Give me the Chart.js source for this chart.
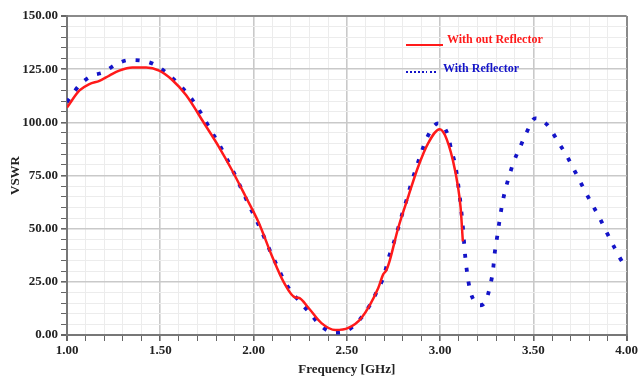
<!DOCTYPE html>
<html>
<head>
<meta charset="utf-8">
<script src="https://cdn.jsdelivr.net/npm/chart.js@4/dist/chart.umd.min.js"></script>
<style>
  html, body { margin: 0; padding: 0; background: #ffffff; }
  #wrap { width: 640px; height: 377px; position: relative; }
</style>
</head>
<body>
<div id="wrap"><canvas id="c" width="640" height="377"></canvas></div>
<script>
// ---- Data ----
const seriesLabels = ["With out Reflector", "With Reflector"];

const freqWithout = [1.00, 1.067, 1.120, 1.174, 1.227, 1.280, 1.350, 1.424, 1.494, 1.563, 1.638, 1.734,
  1.814, 1.884, 1.958, 2.028, 2.097, 2.161, 2.225, 2.241, 2.295, 2.364, 2.439, 2.508, 2.578, 2.668,
  2.695, 2.712, 2.730, 2.775, 2.829, 2.882, 2.935, 2.998, 3.026, 3.069, 3.096, 3.110, 3.122];
const vswrWithout = [107, 115, 118, 119.5, 122, 124.3, 125.8, 125.8, 124.3, 120, 112.8, 99.7,
  88.5, 77.6, 65, 52.8, 37.5, 25, 17.6, 17.5, 12.7, 5.6, 2.3, 3.3, 8, 22,
  28.5, 30.5, 35, 50.2, 65, 79, 90, 96.8, 94, 82, 69.7, 60, 44];

const freqWith = [1.00, 1.067, 1.131, 1.195, 1.264, 1.334, 1.402, 1.467, 1.531, 1.595, 1.670, 1.722, 1.770,
  1.818, 1.862, 1.903, 1.942, 1.980, 2.019, 2.057, 2.093, 2.131, 2.170, 2.232, 2.295, 2.366, 2.434, 2.499,
  2.567, 2.624, 2.665, 2.700, 2.722, 2.749, 2.775, 2.798, 2.823, 2.846, 2.873, 2.900, 2.932, 2.989, 3.042,
  3.060, 3.081, 3.105, 3.122, 3.135, 3.158, 3.190, 3.218, 3.247, 3.270, 3.284, 3.292, 3.304, 3.316, 3.329,
  3.345, 3.368, 3.393, 3.428, 3.464, 3.510, 3.576, 3.629, 3.679, 3.722, 3.765, 3.807, 3.852, 3.893, 3.935,
  3.980, 4.00];
const vswrWith = [109.5, 117.5, 121.8, 123.5, 127.3, 129.3, 129, 127.3, 123.5, 118.3, 110.8, 103.8, 96.4,
  89.3, 82, 74.8, 67.4, 60.3, 53.3, 46, 38.7, 31.6, 24.6, 17.2, 11, 3.9, 1.1, 2,
  7, 14.1, 21.2, 28, 35.6, 42.6, 50.2, 57.2, 64.3, 71.6, 78.8, 85.9, 93.2, 99.5, 94,
  87, 80, 65.3, 50.9, 36.8, 22.2, 15.2, 14, 16.5, 23.8, 30.6, 37.9, 45, 52.2, 59.5,
  66.6, 74, 81, 88.2, 95.3, 101.9, 98.7, 91.4, 84.2, 77.1, 69.7, 62.7, 55.6, 48.3, 41.1,
  34, 32.5];

const xMin = 1.0, xMax = 4.0, xMinorStep = 0.1, xMajorStep = 0.5;
const yMin = 0, yMax = 150, yMinorStep = 5, yMajorStep = 25;
const xTitle = "Frequency [GHz]";
const yTitle = "VSWR";

// ---- Build chart ----
const toPts = (xs, ys) => xs.map((x, i) => ({ x: x, y: ys[i] }));
const FONT = "'Liberation Serif', 'Times New Roman', serif";
const isMult = (v, step) => Math.abs(v / step - Math.round(v / step)) < 1e-6;

const gridColor = (step, min, max) => (ctx) => {
  const v = ctx.tick ? ctx.tick.value : 0;
  if (Math.abs(v - min) < 1e-6 || Math.abs(v - max) < 1e-6) return '#8a8a8a';
  return isMult(v, step) ? '#c9c9c9' : '#ececec';
};
const gridWidth = (step, min, max) => (ctx) => {
  const v = ctx.tick ? ctx.tick.value : 0;
  if (Math.abs(v - min) < 1e-6 || Math.abs(v - max) < 1e-6) return 2;
  return isMult(v, step) ? 1.6 : 1;
};

const legendPlugin = {
  id: 'inlineLegend',
  afterDatasetsDraw(chart) {
    const c = chart.ctx;
    const ds = chart.data.datasets;
    c.save();
    c.font = "bold 12px " + FONT;
    c.textBaseline = 'middle';
    c.textAlign = 'left';
    // Series 1: solid red line sample
    c.strokeStyle = ds[0].borderColor;
    c.lineWidth = 2;
    c.beginPath(); c.moveTo(406, 45); c.lineTo(443, 45); c.stroke();
    c.fillStyle = ds[0].borderColor;
    c.fillText(ds[0].label, 447, 40);
    // Series 2: dotted blue sample
    c.strokeStyle = ds[1].borderColor;
    c.lineWidth = 2;
    c.setLineDash([2, 2]);
    c.beginPath(); c.moveTo(406, 72); c.lineTo(427, 72); c.stroke();
    c.beginPath(); c.moveTo(430, 72); c.lineTo(437, 72); c.stroke();
    c.setLineDash([]);
    c.fillStyle = ds[1].borderColor;
    c.fillText(ds[1].label, 443, 69);
    c.restore();
  }
};

new Chart(document.getElementById('c'), {
  type: 'line',
  data: {
    datasets: [
      {
        label: seriesLabels[0],
        data: toPts(freqWithout, vswrWithout),
        borderColor: '#ff1a1a',
        borderWidth: 2.5,
        pointRadius: 0,
        fill: false,
        cubicInterpolationMode: 'monotone'
      },
      {
        label: seriesLabels[1],
        data: toPts(freqWith, vswrWith),
        borderColor: '#1414c8',
        borderWidth: 3.8,
        borderDash: [4, 10],
        borderCapStyle: 'butt',
        pointRadius: 0,
        fill: false,
        cubicInterpolationMode: 'monotone'
      }
    ]
  },
  options: {
    responsive: false,
    animation: false,
    devicePixelRatio: 1,
    layout: { padding: { top: 16, right: 10, left: 8, bottom: 0 } },
    plugins: { legend: { display: false }, tooltip: { enabled: false } },
    scales: {
      x: {
        type: 'linear',
        min: xMin, max: xMax,
        afterFit: (s) => { s.height = 42; },
        afterBuildTicks: (s) => {
          const t = [];
          for (let i = 0; i <= Math.round((xMax - xMin) / xMinorStep); i++) t.push({ value: +(xMin + i * xMinorStep).toFixed(4) });
          s.ticks = t;
        },
        ticks: {
          autoSkip: false,
          maxRotation: 0,
          padding: 2,
          color: '#222',
          font: { family: FONT, size: 13, weight: 'bold' },
          callback: (v) => isMult(v, xMajorStep) ? Number(v).toFixed(2) : ''
        },
        grid: {
          color: gridColor(xMajorStep, xMin, xMax),
          lineWidth: gridWidth(xMajorStep, xMin, xMax),
          tickColor: '#666',
          tickLength: 6,
          drawTicks: true
        },
        border: { color: '#777', width: 2 },
        title: {
          display: true, text: xTitle, color: '#222', padding: { top: 0, bottom: 0 },
          font: { family: FONT, size: 13, weight: 'bold' }
        }
      },
      y: {
        type: 'linear',
        min: yMin, max: yMax,
        afterFit: (s) => { s.width = 59; },
        afterBuildTicks: (s) => {
          const t = [];
          for (let i = 0; i <= Math.round((yMax - yMin) / yMinorStep); i++) t.push({ value: yMin + i * yMinorStep });
          s.ticks = t;
        },
        ticks: {
          autoSkip: false,
          padding: 3,
          color: '#222',
          font: { family: FONT, size: 13, weight: 'bold' },
          callback: (v) => isMult(v, yMajorStep) ? Number(v).toFixed(2) : ''
        },
        grid: {
          color: gridColor(yMajorStep, yMin, yMax),
          lineWidth: gridWidth(yMajorStep, yMin, yMax),
          tickColor: '#666',
          tickLength: 6,
          drawTicks: true
        },
        border: { color: '#777', width: 2 },
        title: {
          display: true, text: yTitle, color: '#222', padding: { top: 0, bottom: 0 },
          font: { family: FONT, size: 13, weight: 'bold' }
        }
      }
    }
  },
  plugins: [legendPlugin]
});
</script>
</body>
</html>
